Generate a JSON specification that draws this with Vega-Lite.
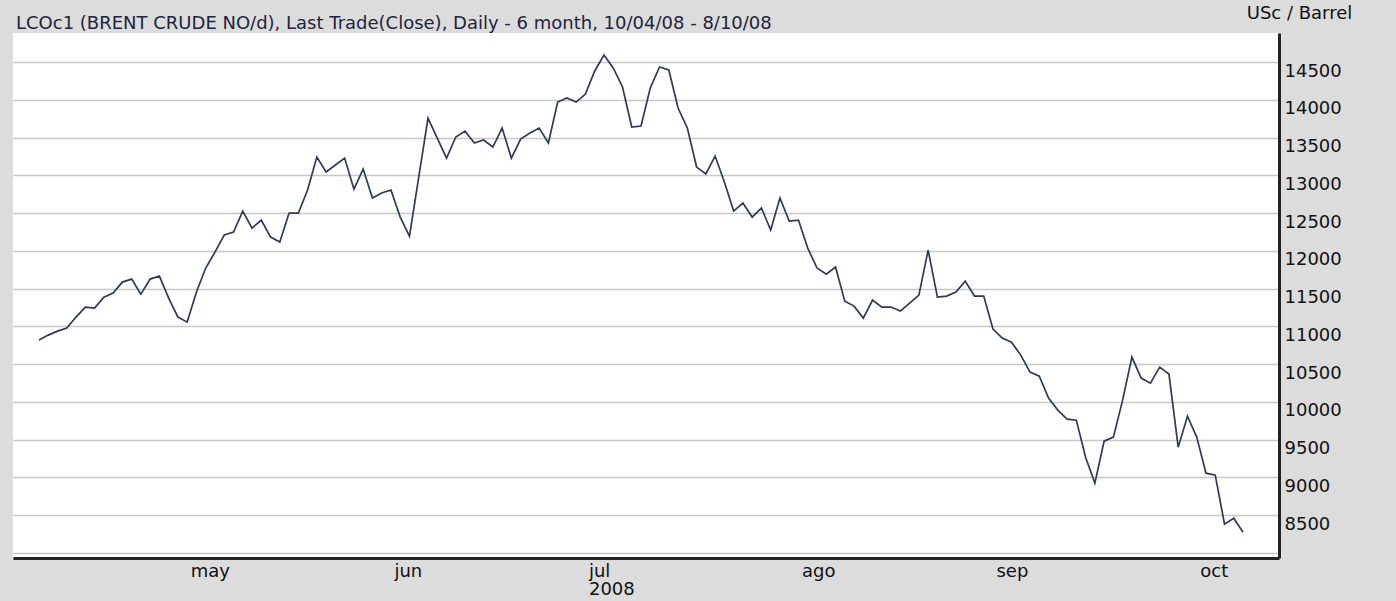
{
  "$schema": "https://vega.github.io/schema/vega-lite/v6.json",
  "width": 1266,
  "height": 525,
  "autosize": {"type": "none"},
  "padding": {"left": 13, "top": 33, "right": 117, "bottom": 43},
  "background": "#dcdcdc",
  "config": {"view": {"fill": "white", "stroke": null}, "font": "DejaVu Sans"},
  "title": {
    "text": "LCOc1 (BRENT CRUDE NO/d), Last Trade(Close), Daily - 6 month, 10/04/08 - 8/10/08",
    "anchor": "start",
    "frame": "group",
    "fontSize": 18,
    "fontWeight": "normal",
    "font": "DejaVu Sans",
    "color": "#1c2440",
    "baseline": "alphabetic",
    "offset": -43,
    "dx": 3
  },
  "data": {
    "values": [
      {"date": "2008-04-09", "close": 10818},
      {"date": "2008-04-10", "close": 10884},
      {"date": "2008-04-11", "close": 10937},
      {"date": "2008-04-14", "close": 10977},
      {"date": "2008-04-15", "close": 11123},
      {"date": "2008-04-16", "close": 11255},
      {"date": "2008-04-17", "close": 11242},
      {"date": "2008-04-18", "close": 11387},
      {"date": "2008-04-21", "close": 11440},
      {"date": "2008-04-22", "close": 11586},
      {"date": "2008-04-23", "close": 11626},
      {"date": "2008-04-24", "close": 11427},
      {"date": "2008-04-25", "close": 11626},
      {"date": "2008-04-28", "close": 11666},
      {"date": "2008-04-29", "close": 11374},
      {"date": "2008-04-30", "close": 11123},
      {"date": "2008-05-01", "close": 11056},
      {"date": "2008-05-02", "close": 11454},
      {"date": "2008-05-05", "close": 11772},
      {"date": "2008-05-06", "close": 11983},
      {"date": "2008-05-07", "close": 12209},
      {"date": "2008-05-08", "close": 12248},
      {"date": "2008-05-09", "close": 12526},
      {"date": "2008-05-12", "close": 12301},
      {"date": "2008-05-13", "close": 12407},
      {"date": "2008-05-14", "close": 12182},
      {"date": "2008-05-15", "close": 12116},
      {"date": "2008-05-16", "close": 12500},
      {"date": "2008-05-19", "close": 12500},
      {"date": "2008-05-20", "close": 12805},
      {"date": "2008-05-21", "close": 13242},
      {"date": "2008-05-22", "close": 13043},
      {"date": "2008-05-23", "close": 13136},
      {"date": "2008-05-26", "close": 13228},
      {"date": "2008-05-27", "close": 12818},
      {"date": "2008-05-28", "close": 13083},
      {"date": "2008-05-29", "close": 12699},
      {"date": "2008-05-30", "close": 12765},
      {"date": "2008-06-02", "close": 12805},
      {"date": "2008-06-03", "close": 12447},
      {"date": "2008-06-04", "close": 12195},
      {"date": "2008-06-05", "close": 12977},
      {"date": "2008-06-06", "close": 13758},
      {"date": "2008-06-09", "close": 13493},
      {"date": "2008-06-10", "close": 13228},
      {"date": "2008-06-11", "close": 13507},
      {"date": "2008-06-12", "close": 13586},
      {"date": "2008-06-13", "close": 13427},
      {"date": "2008-06-16", "close": 13467},
      {"date": "2008-06-17", "close": 13374},
      {"date": "2008-06-18", "close": 13626},
      {"date": "2008-06-19", "close": 13228},
      {"date": "2008-06-20", "close": 13480},
      {"date": "2008-06-23", "close": 13560},
      {"date": "2008-06-24", "close": 13626},
      {"date": "2008-06-25", "close": 13427},
      {"date": "2008-06-26", "close": 13970},
      {"date": "2008-06-27", "close": 14023},
      {"date": "2008-06-30", "close": 13970},
      {"date": "2008-07-01", "close": 14076},
      {"date": "2008-07-02", "close": 14381},
      {"date": "2008-07-03", "close": 14593},
      {"date": "2008-07-04", "close": 14421},
      {"date": "2008-07-07", "close": 14169},
      {"date": "2008-07-08", "close": 13639},
      {"date": "2008-07-09", "close": 13652},
      {"date": "2008-07-10", "close": 14156},
      {"date": "2008-07-11", "close": 14434},
      {"date": "2008-07-14", "close": 14394},
      {"date": "2008-07-15", "close": 13891},
      {"date": "2008-07-16", "close": 13626},
      {"date": "2008-07-17", "close": 13109},
      {"date": "2008-07-18", "close": 13017},
      {"date": "2008-07-21", "close": 13255},
      {"date": "2008-07-22", "close": 12911},
      {"date": "2008-07-23", "close": 12526},
      {"date": "2008-07-24", "close": 12632},
      {"date": "2008-07-25", "close": 12447},
      {"date": "2008-07-28", "close": 12566},
      {"date": "2008-07-29", "close": 12275},
      {"date": "2008-07-30", "close": 12699},
      {"date": "2008-07-31", "close": 12394},
      {"date": "2008-08-01", "close": 12407},
      {"date": "2008-08-04", "close": 12036},
      {"date": "2008-08-05", "close": 11772},
      {"date": "2008-08-06", "close": 11692},
      {"date": "2008-08-07", "close": 11785},
      {"date": "2008-08-08", "close": 11334},
      {"date": "2008-08-11", "close": 11268},
      {"date": "2008-08-12", "close": 11109},
      {"date": "2008-08-13", "close": 11348},
      {"date": "2008-08-14", "close": 11255},
      {"date": "2008-08-15", "close": 11255},
      {"date": "2008-08-18", "close": 11202},
      {"date": "2008-08-19", "close": 11308},
      {"date": "2008-08-20", "close": 11414},
      {"date": "2008-08-21", "close": 12010},
      {"date": "2008-08-22", "close": 11387},
      {"date": "2008-08-25", "close": 11401},
      {"date": "2008-08-26", "close": 11454},
      {"date": "2008-08-27", "close": 11599},
      {"date": "2008-08-28", "close": 11401},
      {"date": "2008-08-29", "close": 11401},
      {"date": "2008-09-01", "close": 10964},
      {"date": "2008-09-02", "close": 10844},
      {"date": "2008-09-03", "close": 10791},
      {"date": "2008-09-04", "close": 10619},
      {"date": "2008-09-05", "close": 10394},
      {"date": "2008-09-08", "close": 10341},
      {"date": "2008-09-09", "close": 10050},
      {"date": "2008-09-10", "close": 9891},
      {"date": "2008-09-11", "close": 9772},
      {"date": "2008-09-12", "close": 9758},
      {"date": "2008-09-15", "close": 9268},
      {"date": "2008-09-16", "close": 8924},
      {"date": "2008-09-17", "close": 9480},
      {"date": "2008-09-18", "close": 9533},
      {"date": "2008-09-19", "close": 10023},
      {"date": "2008-09-22", "close": 10593},
      {"date": "2008-09-23", "close": 10315},
      {"date": "2008-09-24", "close": 10248},
      {"date": "2008-09-25", "close": 10460},
      {"date": "2008-09-26", "close": 10368},
      {"date": "2008-09-29", "close": 9401},
      {"date": "2008-09-30", "close": 9811},
      {"date": "2008-10-01", "close": 9533},
      {"date": "2008-10-02", "close": 9056},
      {"date": "2008-10-03", "close": 9030},
      {"date": "2008-10-06", "close": 8381},
      {"date": "2008-10-07", "close": 8460},
      {"date": "2008-10-08", "close": 8275}
    ]
  },
  "mark": {"type": "line", "color": "#2e3a59", "strokeWidth": 1.7},
  "encoding": {
    "x": {
      "field": "date",
      "type": "ordinal",
      "sort": "ascending",
      "scale": {
        "type": "point",
        "padding": 0.845,
        "align": 0.478,
        "domain": [
          "2008-04-07", "2008-04-08",
          "2008-04-09", "2008-04-10", "2008-04-11", "2008-04-14", "2008-04-15", "2008-04-16", "2008-04-17", "2008-04-18",
          "2008-04-21", "2008-04-22", "2008-04-23", "2008-04-24", "2008-04-25", "2008-04-28", "2008-04-29", "2008-04-30",
          "2008-05-01", "2008-05-02", "2008-05-05", "2008-05-06", "2008-05-07", "2008-05-08", "2008-05-09",
          "2008-05-12", "2008-05-13", "2008-05-14", "2008-05-15", "2008-05-16", "2008-05-19", "2008-05-20",
          "2008-05-21", "2008-05-22", "2008-05-23", "2008-05-26", "2008-05-27", "2008-05-28", "2008-05-29", "2008-05-30",
          "2008-06-02", "2008-06-03", "2008-06-04", "2008-06-05", "2008-06-06", "2008-06-09", "2008-06-10",
          "2008-06-11", "2008-06-12", "2008-06-13", "2008-06-16", "2008-06-17", "2008-06-18", "2008-06-19",
          "2008-06-20", "2008-06-23", "2008-06-24", "2008-06-25", "2008-06-26", "2008-06-27", "2008-06-30",
          "2008-07-01", "2008-07-02", "2008-07-03", "2008-07-04", "2008-07-07", "2008-07-08", "2008-07-09",
          "2008-07-10", "2008-07-11", "2008-07-14", "2008-07-15", "2008-07-16", "2008-07-17", "2008-07-18",
          "2008-07-21", "2008-07-22", "2008-07-23", "2008-07-24", "2008-07-25", "2008-07-28", "2008-07-29",
          "2008-07-30", "2008-07-31",
          "2008-08-01", "2008-08-04", "2008-08-05", "2008-08-06", "2008-08-07", "2008-08-08", "2008-08-11",
          "2008-08-12", "2008-08-13", "2008-08-14", "2008-08-15", "2008-08-18", "2008-08-19", "2008-08-20",
          "2008-08-21", "2008-08-22", "2008-08-25", "2008-08-26", "2008-08-27", "2008-08-28", "2008-08-29",
          "2008-09-01", "2008-09-02", "2008-09-03", "2008-09-04", "2008-09-05", "2008-09-08", "2008-09-09",
          "2008-09-10", "2008-09-11", "2008-09-12", "2008-09-15", "2008-09-16", "2008-09-17", "2008-09-18",
          "2008-09-19", "2008-09-22", "2008-09-23", "2008-09-24", "2008-09-25", "2008-09-26", "2008-09-29",
          "2008-09-30",
          "2008-10-01", "2008-10-02", "2008-10-03", "2008-10-06", "2008-10-07", "2008-10-08",
          "2008-10-09", "2008-10-10", "2008-10-13"
        ]
      },
      "axis": {
        "title": null,
        "orient": "bottom",
        "values": ["2008-05-01", "2008-06-02", "2008-07-01", "2008-08-01", "2008-09-01", "2008-10-01"],
        "labelExpr": "substring(datum.value,5,7) == '05' ? 'may' : substring(datum.value,5,7) == '06' ? 'jun' : substring(datum.value,5,7) == '07' ? ['jul','2008'] : substring(datum.value,5,7) == '08' ? 'ago' : substring(datum.value,5,7) == '09' ? 'sep' : 'oct'",
        "labelAlign": "left",
        "labelBaseline": "top",
        "labelAngle": 0,
        "labelOffset": 3,
        "labelPadding": 4,
        "labelFontSize": 18,
        "labelFont": "DejaVu Sans",
        "labelColor": "#111111",
        "labelLineHeight": 18,
        "labelOverlap": false,
        "labelFlush": false,
        "ticks": false,
        "grid": false,
        "domainColor": "#222222",
        "domainWidth": 3
      }
    },
    "y": {
      "field": "close",
      "type": "quantitative",
      "scale": {"domain": [7933, 14884], "nice": false, "zero": false},
      "axis": {
        "orient": "right",
        "title": "USc / Barrel",
        "titleAngle": 0,
        "titleX": 20,
        "titleY": -15,
        "titleAlign": "center",
        "titleBaseline": "alphabetic",
        "titleFontSize": 18,
        "titleFont": "DejaVu Sans",
        "titleFontWeight": "normal",
        "titleColor": "#111111",
        "values": [8000, 8500, 9000, 9500, 10000, 10500, 11000, 11500, 12000, 12500, 13000, 13500, 14000, 14500],
        "format": "d",
        "labelExpr": "datum.value < 8250 ? '' : datum.label",
        "labelAlign": "left",
        "labelBaseline": "top",
        "labelPadding": 5,
        "labelFontSize": 18,
        "labelFont": "DejaVu Sans",
        "labelColor": "#111111",
        "labelOverlap": false,
        "labelFlush": false,
        "ticks": false,
        "grid": true,
        "gridColor": "#c8c8c8",
        "gridWidth": 1.5,
        "domainColor": "#222222",
        "domainWidth": 3
      }
    }
  }
}
